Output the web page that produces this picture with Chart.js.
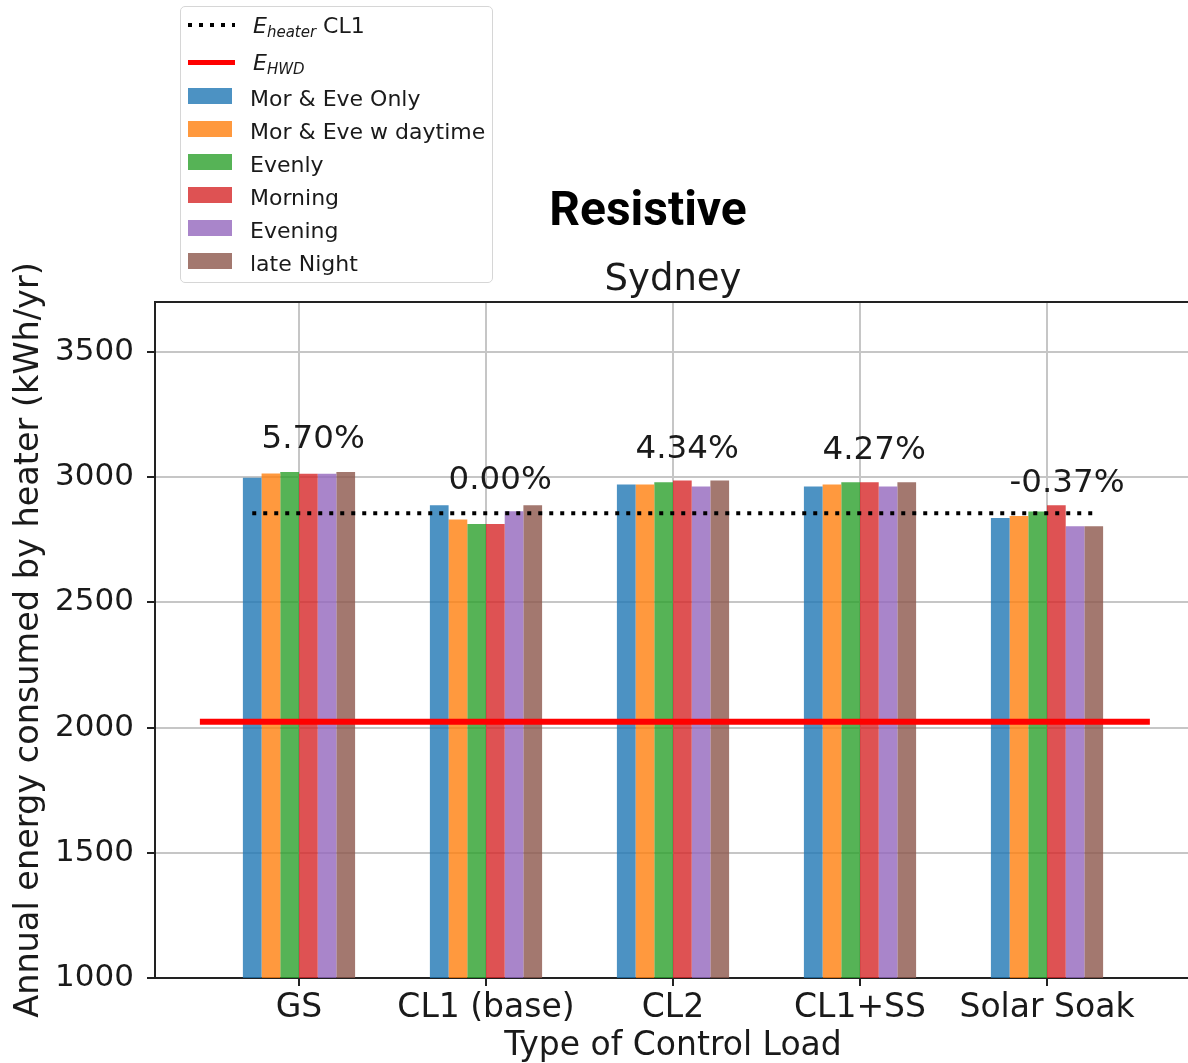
<!DOCTYPE html>
<html>
<head>
<meta charset="utf-8">
<script src="https://cdn.jsdelivr.net/npm/chart.js@4.4.0/dist/chart.umd.min.js"></script>
<style>
  html, body { margin: 0; padding: 0; background: #fff; overflow: hidden; }
  #wrap { position: relative; width: 1188px; height: 1063px; overflow: hidden; }
  #c { position: absolute; left: 0; top: 0; }
  #legendBox { position: absolute; left: 180px; top: 6px; width: 311px; height: 275px;
    border: 1.5px solid #d6d6d6; border-radius: 5px; background: rgba(255,255,255,0.8); }
  .lrow { position: absolute; left: 188px; height: 32px; display: flex; align-items: center;
    font-family: 'DejaVu Sans', sans-serif; font-size: 22px; color: #1a1a1a; white-space: nowrap; }
  .sample { width: 44px; flex: none; }
  .ltxt { margin-left: 18px; position: relative; top: 2px; }
  .math { font-style: italic; }
  .math sub { font-size: 15px; vertical-align: -4px; line-height: 0; font-style: italic; }
</style>
</head>
<body>
<div id="wrap">
  <canvas id="c" width="1200" height="1063"></canvas>
  <div id="legendBox"></div>
  <div id="legendRows"></div>
</div>
<script>
// ---- data ----
const categories = ['GS', 'CL1 (base)', 'CL2', 'CL1+SS', 'Solar Soak'];
const seriesNames = ['Mor & Eve Only', 'Mor & Eve w daytime', 'Evenly', 'Morning', 'Evening', 'late Night'];
const morEveOnly    = [2998, 2888, 2971, 2963, 2837];
const morEveDaytime = [3015, 2831, 2971, 2971, 2845];
const evenly        = [3021, 2813, 2980, 2980, 2863];
const morning       = [3014, 2813, 2987, 2980, 2888];
const evening       = [3014, 2864, 2963, 2963, 2804];
const lateNight     = [3021, 2888, 2987, 2980, 2804];
const pctLabels = ['5.70%', '0.00%', '4.34%', '4.27%', '-0.37%'];
const heaterCL1 = 2856;           // E_heater CL1 reference level
const heaterSpan = [-0.25, 4.25];
const hwdDemand = 2023;           // E_HWD level
const hwdSpan = [-0.53, 4.55];
const yTicks = [1000, 1500, 2000, 2500, 3000, 3500];

// ---- styling ----
const seriesValues = [morEveOnly, morEveDaytime, evenly, morning, evening, lateNight];
const barColors = [
  'rgba(31,119,180,0.8)', 'rgba(255,127,14,0.8)', 'rgba(44,160,44,0.8)',
  'rgba(214,39,40,0.8)', 'rgba(148,103,189,0.8)', 'rgba(140,86,75,0.8)'
];
const hwdColor = '#ff0000';
const inkColor = '#1a1a1a';
const FONT = "'DejaVu Sans', sans-serif";

Chart.defaults.font.family = FONT;
Chart.defaults.color = inkColor;

const groupMeans = categories.map((_, i) =>
  seriesValues.reduce((s, arr) => s + arr[i], 0) / seriesValues.length);

const datasets = seriesValues.map((vals, k) => ({
  type: 'bar',
  label: seriesNames[k],
  data: vals.map((v, i) => ({ x: i, y: v })),
  backgroundColor: barColors[k],
  borderWidth: 0,
  categoryPercentage: 0.6,
  barPercentage: 1.0,
  order: 2
}));
datasets.push({
  type: 'line',
  label: 'E_heater CL1',
  data: heaterSpan.map(x => ({ x, y: heaterCL1 })),
  borderColor: '#000',
  borderWidth: 4,
  borderDash: [4, 7],
  borderCapStyle: 'butt',
  pointRadius: 0,
  order: 0
});
datasets.push({
  type: 'line',
  label: 'E_HWD',
  data: hwdSpan.map(x => ({ x, y: hwdDemand })),
  borderColor: hwdColor,
  borderWidth: 6,
  pointRadius: 0,
  order: 1
});

// titles, top spine and percentage annotations
const annotate = {
  id: 'annotate',
  afterDatasetsDraw(chart) {
    const { ctx, scales: { x, y } } = chart;
    ctx.save();
    ctx.font = '32.5px ' + FONT;
    ctx.fillStyle = inkColor;
    ctx.textAlign = 'left';
    ctx.textBaseline = 'alphabetic';
    pctLabels.forEach((t, i) => {
      ctx.fillText(t, x.getPixelForValue(i - 0.2), y.getPixelForValue(groupMeans[i] + 102));
    });
    ctx.restore();
  },
  afterDraw(chart) {
    const { ctx, chartArea: a } = chart;
    ctx.save();
    ctx.strokeStyle = '#222';
    ctx.lineWidth = 2;
    ctx.beginPath();
    ctx.moveTo(a.left - 1, a.top);
    ctx.lineTo(a.right + 1, a.top);
    ctx.stroke();
    ctx.fillStyle = inkColor;
    ctx.textAlign = 'center';
    ctx.textBaseline = 'alphabetic';
    ctx.font = '37px ' + FONT;
    ctx.fillText('Sydney', (a.left + a.right) / 2, 290);
    ctx.fillStyle = '#000';
    ctx.font = "bold 48px Roboto, 'DejaVu Sans', sans-serif";
    ctx.fillText('Resistive', 648, 225);
    ctx.restore();
  }
};

new Chart(document.getElementById('c'), {
  type: 'bar',
  data: { datasets },
  plugins: [annotate],
  options: {
    responsive: false,
    devicePixelRatio: 1,
    animation: false,
    layout: { padding: { left: 0, right: 9, top: 302, bottom: 0 } },
    plugins: { legend: { display: false }, tooltip: { enabled: false } },
    scales: {
      x: {
        type: 'linear',
        min: -0.77,
        max: 4.77,
        offset: false,
        grid: { offset: false, color: '#c6c6c6', lineWidth: 2, tickColor: '#222', tickWidth: 2, tickLength: 8 },
        border: { color: '#222', width: 2 },
        afterBuildTicks: s => { s.ticks = categories.map((_, i) => ({ value: i })); },
        afterFit: s => { s.height = 85; },
        ticks: {
          autoSkip: false, maxRotation: 0, padding: 3,
          font: { size: 33 }, color: inkColor,
          callback: v => categories[Math.round(v)]
        },
        title: { display: true, text: 'Type of Control Load', font: { size: 33 }, color: inkColor, padding: { top: 0, bottom: -3 } }
      },
      y: {
        type: 'linear',
        min: 1000,
        max: 3700,
        grid: { color: '#c6c6c6', lineWidth: 2, tickColor: '#222', tickWidth: 2, tickLength: 8 },
        border: { color: '#222', width: 2 },
        afterBuildTicks: s => { s.ticks = yTicks.map(v => ({ value: v })); },
        afterFit: s => { s.width = 155; },
        ticks: { padding: 13, font: { size: 31 }, color: inkColor, callback: v => String(v) },
        title: { display: true, text: 'Annual energy consumed by heater (kWh/yr)', font: { size: 33.5 }, color: inkColor, padding: { top: 9, bottom: 0 } }
      }
    }
  }
});

// legend entries
const rows = document.getElementById('legendRows');
function addRow(centerY, sampleStyle, html, dy) {
  const r = document.createElement('div');
  r.className = 'lrow';
  r.style.top = (centerY - 16) + 'px';
  const s = document.createElement('div');
  s.className = 'sample';
  Object.assign(s.style, sampleStyle);
  const t = document.createElement('span');
  t.className = 'ltxt';
  if (dy !== undefined) t.style.top = dy + 'px';
  t.innerHTML = html;
  r.appendChild(s);
  r.appendChild(t);
  rows.appendChild(r);
}
addRow(25, { width: '47px', height: '4px',
  background: 'repeating-linear-gradient(to right, #000 0 4px, transparent 4px 11px)' },
  '<span class="math">E<sub>heater</sub></span> CL1', 0);
addRow(62, { width: '47px', height: '5px', background: hwdColor },
  '<span class="math">E<sub>HWD</sub></span>', 0);
seriesNames.forEach((name, k) => {
  const span = document.createElement('span');
  span.textContent = name;
  addRow(96 + 33 * k, { height: '16px', background: barColors[k] }, span.innerHTML);
});
</script>
</body>
</html>
